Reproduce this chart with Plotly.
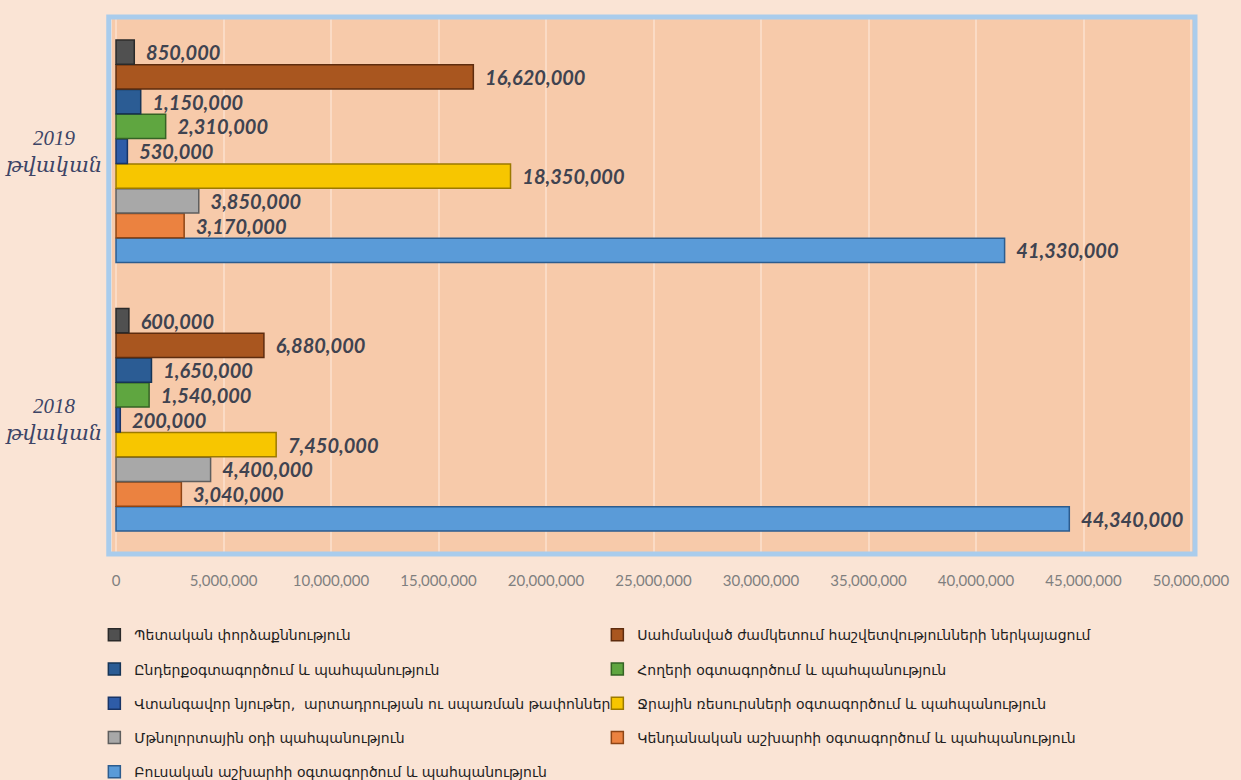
import plotly.graph_objects as go

years = ["2018", "2019"]
year_labels = ["2018<br>թվական", "2019<br>թվական"]

# series listed top-of-legend first
series_names = [
    "Պետական փորձաքննություն",
    "Սահմանված ժամկետում հաշվետվությունների ներկայացում",
    "Ընդերքօգտագործում և պահպանություն",
    "Հողերի օգտագործում և պահպանություն",
    "Վտանգավոր նյութեր,  արտադրության ու սպառման թափոններ",
    "Ջրային ռեսուրսների օգտագործում և պահպանություն",
    "Մթնոլորտային օդի պահպանություն",
    "Կենդանական աշխարհի օգտագործում և պահպանություն",
    "Բուսական աշխարհի օգտագործում և պահպանություն",
]
values_2018 = [600000, 6880000, 1650000, 1540000, 200000, 7450000, 4400000, 3040000, 44340000]
values_2019 = [850000, 16620000, 1150000, 2310000, 530000, 18350000, 3850000, 3170000, 41330000]

colors = ["#505050", "#A9561F", "#2B5C94", "#5FA640", "#2E5CA8",
          "#F7C600", "#A8A8A8", "#EB8240", "#5A9BD8"]
edges = ["#2A2A2A", "#5E2C0E", "#163456", "#356324", "#183466",
         "#9C7A00", "#5E5E5E", "#8E4515", "#2C5C8E"]

x_ticks = [0, 5000000, 10000000, 15000000, 20000000, 25000000,
           30000000, 35000000, 40000000, 45000000, 50000000]

fig = go.Figure()
# add in reverse so the first series ends up on top of each group
for i in reversed(range(len(series_names))):
    vals = [values_2018[i], values_2019[i]]
    fig.add_trace(go.Bar(
        name=series_names[i],
        legendgroup=f"g{i}",
        legendrank=i + 1,
        y=years,
        x=vals,
        orientation="h",
        marker=dict(color=colors[i], line=dict(color=edges[i], width=1.5)),
        text=[f"<b><i>\u00a0\u00a0{v:,}</i></b>" for v in vals],
        textposition="outside",
        constraintext="none",
        textfont=dict(family="Lato", size=20, color="#3F4350"),
    ))

for k, lab in enumerate(year_labels):
    fig.add_annotation(
        x=-0.054, xref="paper", y=k, yref="y", text="<i>" + lab + "</i>", showarrow=False,
        xanchor="center", yanchor="middle", align="center",
        font=dict(family="Liberation Serif, DejaVu Serif", size=21, color="#3D4466"),
    )

fig.add_shape(type="rect", xref="paper", yref="paper", x0=-0.003, x1=1.0, y0=0, y1=1.0,
              line=dict(color="#A9CCEC", width=5), layer="above")

fig.update_layout(
    width=1241, height=780,
    margin=dict(l=112, r=46, t=17, b=226, autoexpand=False),
    paper_bgcolor="#FAE4D5",
    plot_bgcolor="#F7CAAA",
    barmode="group",
    bargap=0.17,
    bargroupgap=0.02,
    showlegend=True,
    legend=dict(
        orientation="h", traceorder="grouped", tracegroupgap=13,
        x=-0.0163, xanchor="left", y=-0.1215, yanchor="top",
        entrywidth=458, entrywidthmode="pixels",
        font=dict(family="DejaVu Sans", size=14, color="#1E1E1E"),
        bgcolor="rgba(0,0,0,0)",
    ),
    xaxis=dict(
        range=[-186000, 50186000],
        tickvals=x_ticks,
        tickformat=",",
        showgrid=True, gridcolor="rgba(255,240,230,0.45)", gridwidth=2,
        zeroline=False, showline=False,
        ticks="outside", ticklen=13, tickcolor="rgba(0,0,0,0)",
        tickfont=dict(family="Lato", size=15, color="#7F7F7F"),
    ),
    yaxis=dict(
        type="category",
        categoryorder="array", categoryarray=years,
        range=[-0.5, 1.5],
        showticklabels=False, showgrid=False, zeroline=False,
    ),
)

fig.write_html("out.html", config={"displayModeBar": False},
               post_script="document.body.style.margin='0';")
